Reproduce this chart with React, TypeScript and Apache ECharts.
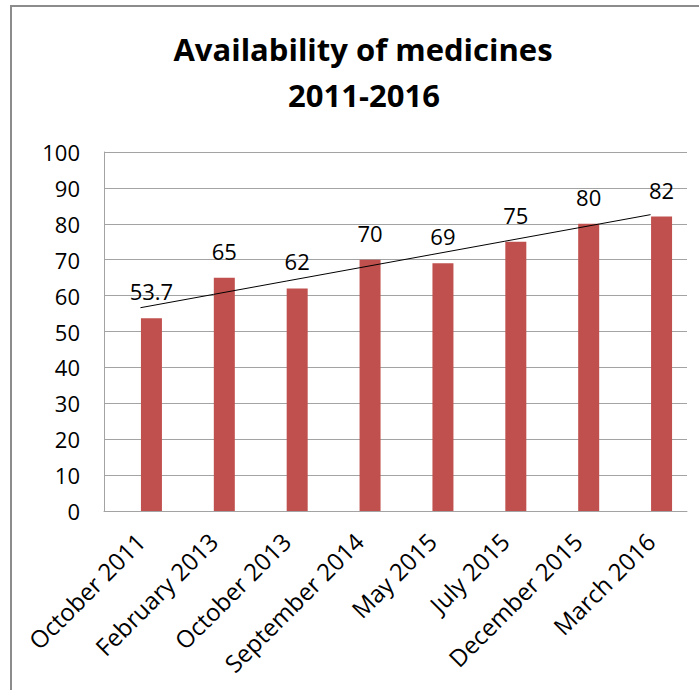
import React, { useEffect, useRef } from 'react';
import * as echarts from 'echarts';

const categories = [
  'October 2011',
  'February 2013',
  'October 2013',
  'September 2014',
  'May 2015',
  'July 2015',
  'December 2015',
  'March 2016',
];
const availability = [53.7, 65, 62, 70, 69, 75, 80, 82];
const yMin = 0;
const yMax = 100;
const yInterval = 10;
const titleLines = ['Availability of medicines', '2011-2016'];

// Least-squares linear trend over the category positions 1..n
function linearTrend(values: number[]): number[] {
  const n = values.length;
  const xs = values.map((_, i) => i + 1);
  const mx = xs.reduce((s, v) => s + v, 0) / n;
  const my = values.reduce((s, v) => s + v, 0) / n;
  let sxy = 0;
  let sxx = 0;
  xs.forEach((x, i) => {
    sxy += (x - mx) * (values[i] - my);
    sxx += (x - mx) * (x - mx);
  });
  const slope = sxy / sxx;
  const intercept = my - slope * mx;
  return xs.map((x) => intercept + slope * x);
}

const FONT = '"Open Sans", "Noto Sans", sans-serif';
const GRID_LINE = '#a3a3a3';

export default function App() {
  const ref = useRef<HTMLDivElement>(null);

  useEffect(() => {
    if (!ref.current) return;
    const chart = echarts.init(ref.current, undefined, { renderer: 'svg' });
    const trend = linearTrend(availability);

    const titleStyle = {
      fontFamily: FONT,
      fontSize: 31,
      fontWeight: 'bold',
      fill: '#000',
      align: 'center',
      verticalAlign: 'middle',
    };

    chart.setOption({
      animation: false,
      backgroundColor: '#ffffff',
      textStyle: { fontFamily: FONT },
      graphic: [
        {
          type: 'rect',
          silent: true,
          shape: { x: 11, y: 6, width: 800, height: 800 },
          style: { fill: 'none', stroke: '#8c8c8c', lineWidth: 2 },
        },
        {
          type: 'text',
          x: 363,
          y: 49,
          style: { ...titleStyle, text: titleLines[0] },
        },
        {
          type: 'text',
          x: 364,
          y: 95,
          style: { ...titleStyle, text: titleLines[1] },
        },
      ],
      grid: [
        { left: 104, top: 152, width: 583, height: 359, containLabel: false },
        { left: 115, top: 152, width: 583, height: 359, containLabel: false },
      ],
      xAxis: [
        {
          type: 'category',
          gridIndex: 0,
          data: categories,
          axisLine: { show: true, lineStyle: { color: GRID_LINE, width: 1 } },
          axisTick: { show: false },
          axisLabel: {
            interval: 0,
            rotate: 45,
            margin: 26,
            fontSize: 24,
            fontFamily: FONT,
            color: '#000',
          },
          splitLine: { show: false },
        },
        {
          type: 'category',
          gridIndex: 1,
          data: categories,
          show: false,
        },
      ],
      yAxis: [
        {
          type: 'value',
          gridIndex: 0,
          min: yMin,
          max: yMax,
          interval: yInterval,
          axisLine: { show: true, lineStyle: { color: GRID_LINE, width: 1 } },
          axisTick: { show: false },
          axisLabel: { fontSize: 22, fontFamily: FONT, color: '#000', margin: 24 },
          splitLine: { show: true, lineStyle: { color: GRID_LINE, width: 1 } },
        },
        {
          type: 'value',
          gridIndex: 1,
          min: yMin,
          max: yMax,
          interval: yInterval,
          show: false,
        },
      ],
      series: [
        {
          type: 'bar',
          name: 'Availability',
          xAxisIndex: 1,
          yAxisIndex: 1,
          data: availability,
          barWidth: 21,
          itemStyle: { color: '#c0504d' },
          label: {
            show: true,
            position: 'top',
            distance: 16,
            fontSize: 22,
            fontFamily: FONT,
            color: '#000',
          },
          z: 2,
        },
        {
          type: 'line',
          name: 'Trend',
          xAxisIndex: 0,
          yAxisIndex: 0,
          data: trend,
          symbol: 'none',
          lineStyle: { color: '#000', width: 1 },
          z: 5,
        },
      ],
    });

    return () => chart.dispose();
  }, []);

  return (
    <div
      ref={ref}
      style={{ position: 'fixed', left: 0, top: 0, width: 699, height: 690 }}
    />
  );
}
